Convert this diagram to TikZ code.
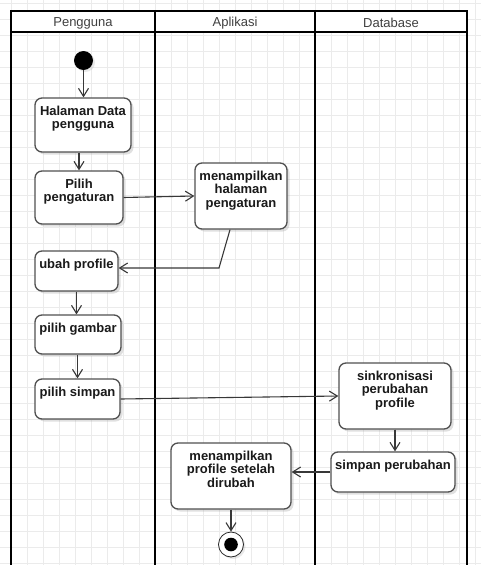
\documentclass[tikz,border=0pt]{standalone}
\usepackage{fontspec}
\setmainfont{Liberation Sans}
\usepackage{tikz}
\usetikzlibrary{arrows.meta,shadows}

\definecolor{gridgrey}{HTML}{EBEBEB}
\definecolor{boxgrey}{HTML}{505050}
\definecolor{linegrey}{HTML}{383838}
\definecolor{headgrey}{HTML}{404040}
\definecolor{textgrey}{HTML}{1A1A1A}

\tikzset{
	gridline/.style={draw=gridgrey, line width=0.8pt},
	lane/.style={draw=black, line width=2.2pt},
	lanehead/.style={font=\fontsize{13}{14}\selectfont, text=headgrey, inner sep=0pt},
	aksi/.style={draw=boxgrey, line width=1.3pt, rounded corners=7pt, fill=white, inner sep=0pt,
		drop shadow={shadow xshift=2.5pt, shadow yshift=-2.5pt, opacity=.35, fill=black!35}},
	aksitext/.style={font=\bfseries\fontsize{13}{13.5}\selectfont, align=center, text=textgrey,
		inner sep=0pt, anchor=north, yshift=-8.5pt},
	alur/.style={draw=linegrey, line width=1.1pt, -{Straight Barb[length=8pt,width=10pt]}},
}

\begin{document}
\begin{tikzpicture}[x=1pt, y=-1pt]
						\useasboundingbox (0,0) rectangle (481,565);
						
						% Background grid
						\foreach \gx in {11,27,...,475} \draw[gridline] (\gx,0) -- (\gx,565);
						\foreach \gy in {3,19,...,563} \draw[gridline] (0,\gy) -- (481,\gy);
						
						% Swimlanes
						\fill[white] (11,11) rectangle (467,32);
						\draw[lane] (11,565) -- (11,11) -- (467,11) -- (467,565);
						\draw[lane] (11,32) -- (467,32);
						\draw[lane] (155,11) -- (155,565);
						\draw[lane] (315,11) -- (315,565);
						\node[lanehead] (pengguna) at (83,23) {Pengguna};
						\node[lanehead] (aplikasi) at (235,23) {Aplikasi};
						\node[lanehead] (database) at (391,23) {Database};
						
						% Start and end
						\node[circle, fill=black, minimum size=19pt, inner sep=0pt,
							drop shadow={shadow xshift=2pt, shadow yshift=-2pt, opacity=.25, fill=black!35}] (mulai) at (83.5,60.5) {};
						\node[circle, draw=black!85, line width=0.8pt, fill=white, minimum size=25pt, inner sep=0pt,
							drop shadow={shadow xshift=2pt, shadow yshift=-2pt, opacity=.25, fill=black!35}] (selesai) at (231,544.5) {};
						\fill[black] (selesai.center) circle (6.8pt);
						
						% Activities
						\node[aksi, minimum width=96, minimum height=54,
							label={[aksitext]north:{Halaman Data\\pengguna}}] (halaman) at (83,125) {};
						\node[aksi, minimum width=88, minimum height=53,
							label={[aksitext]north:{Pilih\\pengaturan}}] (pilih) at (79,197.5) {};
						\node[aksi, minimum width=92, minimum height=66,
							label={[aksitext]north:{menampilkan\\halaman\\pengaturan}}] (tampil) at (241,196) {};
						\node[aksi, minimum width=83, minimum height=40,
							label={[aksitext]north:{ubah profile}}] (ubah) at (76.5,271) {};
						\node[aksi, minimum width=86, minimum height=39,
							label={[aksitext]north:{pilih gambar}}] (gambar) at (78,334.5) {};
						\node[aksi, minimum width=85, minimum height=40,
							label={[aksitext]north:{pilih simpan}}] (simpan) at (77.5,399) {};
						\node[aksi, minimum width=112, minimum height=66,
							label={[aksitext]north:{sinkronisasi\\perubahan\\profile}}] (sinkron) at (395,396) {};
						\node[aksi, minimum width=124, minimum height=40,
							label={[aksitext]north:{simpan perubahan}}] (simpanubah) at (393,472) {};
						\node[aksi, minimum width=120, minimum height=66,
							label={[aksitext]north:{menampilkan\\profile setelah\\dirubah}}] (tampilprofil) at (231,476) {};
						
						% Flow
						\coordinate (belok) at (219,268);
						\draw[alur] (mulai) -- (mulai |- halaman.north);
						\draw[alur] (pilih |- halaman.south) -- (pilih.north);
						\draw[alur] (pilih.east) -- (tampil.west);
						\draw[alur] ([xshift=-11pt]tampil.south) -- (belok) -- (belok -| ubah.east);
						\draw[alur] (ubah.south) -- (ubah.south |- gambar.north);
						\draw[alur] (gambar.south -| simpan) -- (simpan.north);
						\draw[alur] (simpan.east) -- (sinkron.west);
						\draw[alur] (sinkron.south) -- (sinkron.south |- simpanubah.north);
						\draw[alur] (simpanubah.west) -- (simpanubah.west -| tampilprofil.east);
						\draw[alur] (tampilprofil) -- (selesai);
					\end{tikzpicture}
\end{document}
